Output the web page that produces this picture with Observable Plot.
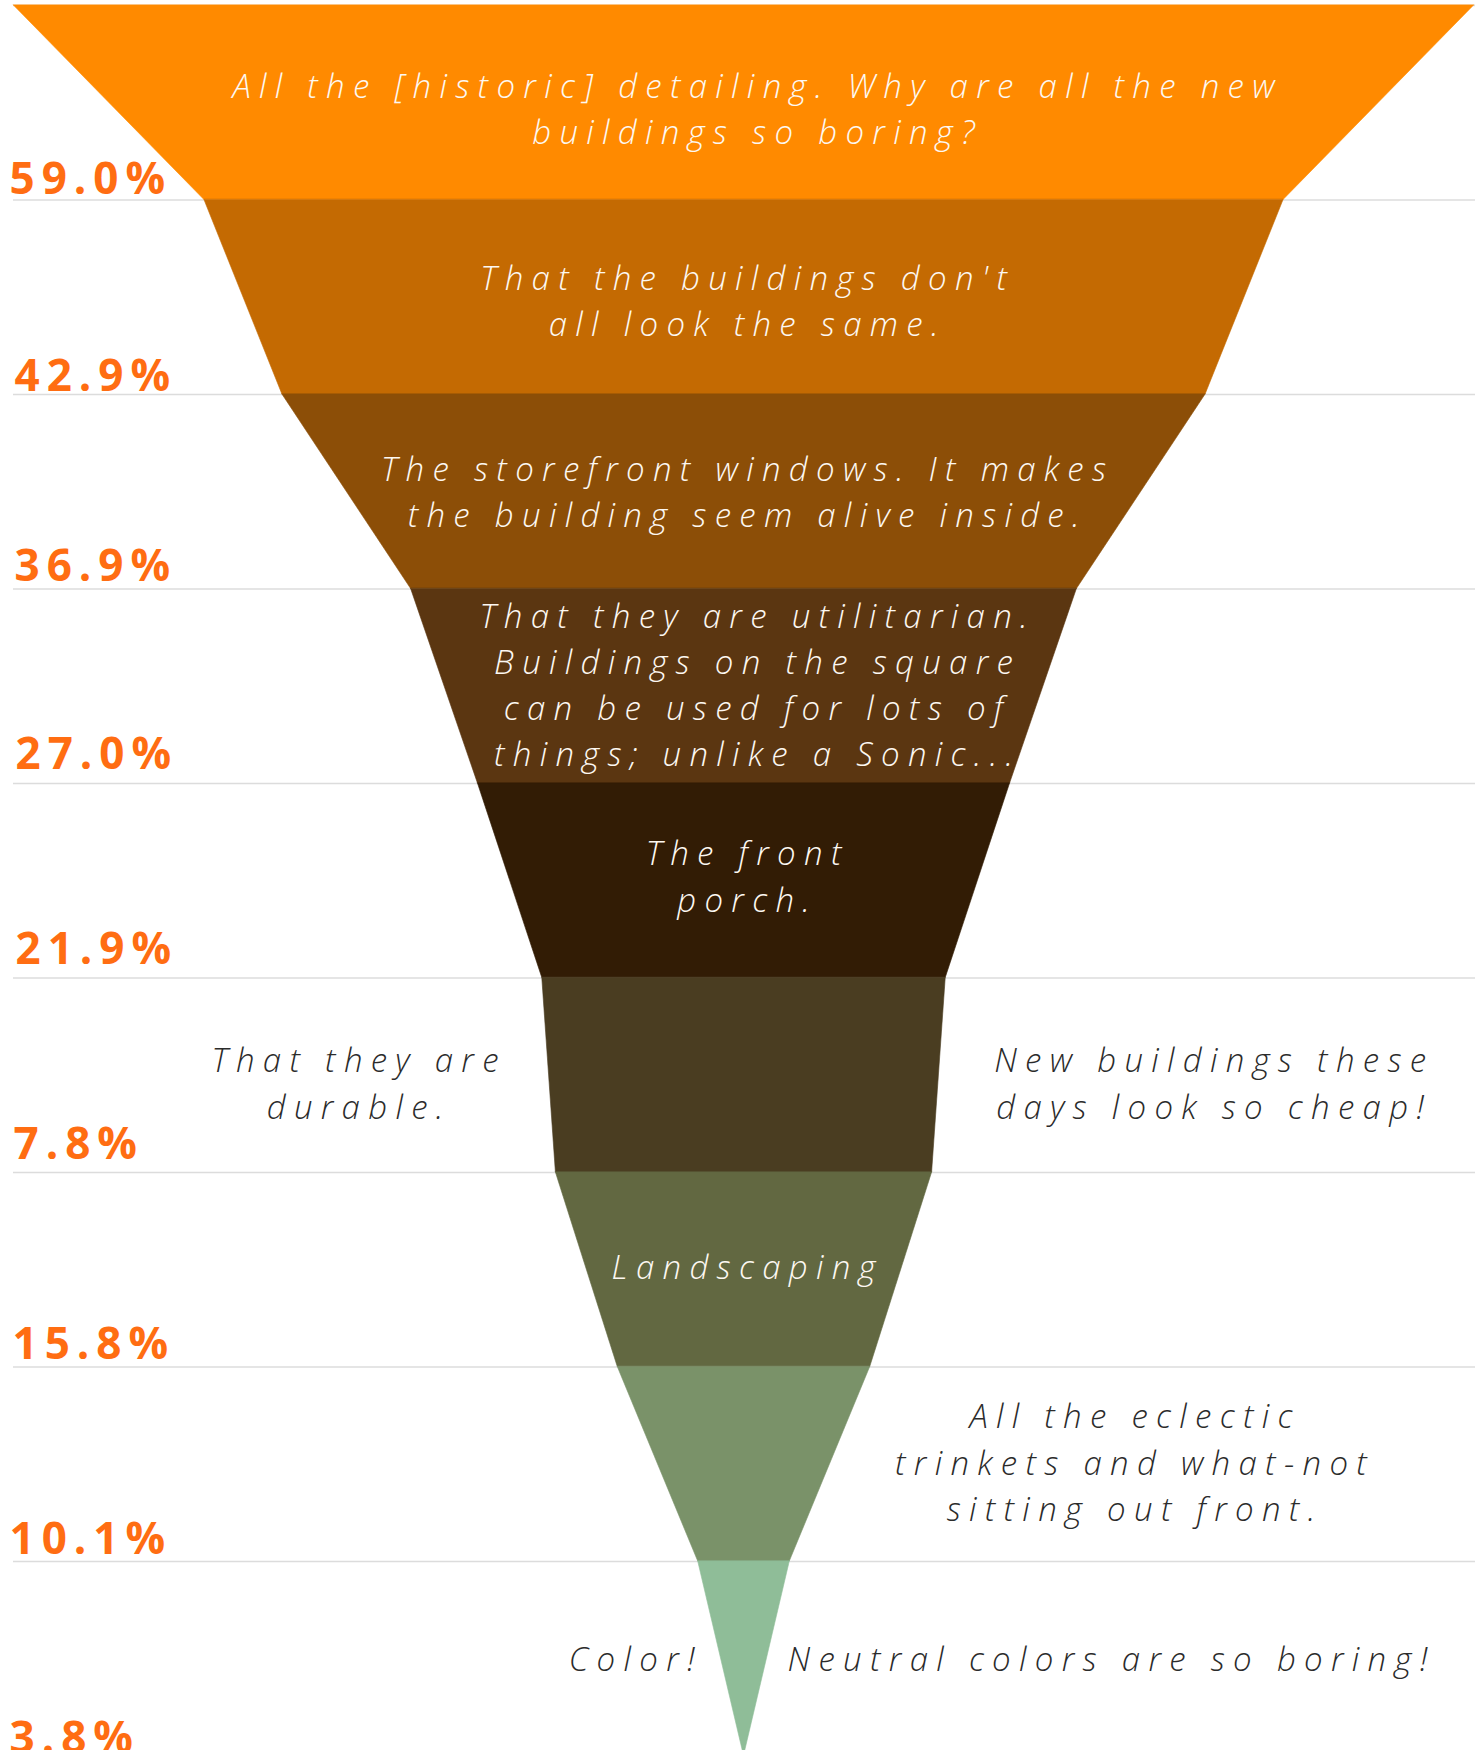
<!DOCTYPE html>
<html>
<head>
<meta charset="utf-8">
<script src="https://cdn.jsdelivr.net/npm/d3@7"></script>
<script src="https://cdn.jsdelivr.net/npm/@observablehq/plot@0.6"></script>
<style>
  html, body { margin: 0; padding: 0; background: #ffffff; overflow: hidden; }
  #chart { width: 1483px; height: 1750px; }
  g[aria-description="answer"] text, g[aria-description="comment"] text { letter-spacing: 8.3px; }
  g[aria-description="share"] text { letter-spacing: 7px; }
</style>
</head>
<body>
<div id="chart"></div>
<script>
// ---- data ----
// share of respondents shown at each step of the funnel
const sharePct = [59.0, 42.9, 36.9, 27.0, 21.9, 7.8, 15.8, 10.1, 3.8];
// drawn width of each slice at its top edge (same % units)
const sliceTopWidth = [59.0, 43.6, 37.3, 26.9, 21.5, 16.3, 15.2, 10.2, 3.7];
// answers (one per slice)
const answers = [
  "All the [historic] detailing. Why are all the new\nbuildings so boring?",
  "That the buildings don't\nall look the same.",
  "The storefront windows. It makes\nthe building seem alive inside.",
  "That they are utilitarian.\nBuildings on the square\ncan be used for lots of\nthings; unlike a Sonic...",
  "The front\nporch.",
  "That they are\ndurable.",
  "Landscaping",
  "All the eclectic\ntrinkets and what-not\nsitting out front.",
  "Color!"
];
// extra comments printed beside two slices
const commentSlice = [5, 8];
const comments = [
  "New buildings these\ndays look so cheap!",
  "Neutral colors are so boring!"
];

// ---- styling / layout ----
const sliceColors = ["#ff8a00", "#c46a02", "#8c4e07", "#5b3611", "#321c05", "#4a3d21", "#626841", "#7a9269", "#8fbd98"];
const nSlices = sharePct.length;
const bandPx = 194.5;
const pxPerUnit = 24.75;
const centerPx = 743.5;

const funnelRows = sharePct.flatMap((_, i) => [
  {slice: i, y: i, w: sliceTopWidth[i]},
  {slice: i, y: i + 1, w: i + 1 < nSlices ? sliceTopWidth[i + 1] : 0}
]);

// placement of answer texts: inside the slice, or beside it (x in % units, nudge in px)
const answerPlace = [
  {x: 0.55, anchor: "middle", inside: true, nudge: 3.5},
  {x: 0.15, anchor: "middle", inside: true, nudge: 1},
  {x: 0.15, anchor: "middle", inside: true, nudge: -2.2},
  {x: 0.55, anchor: "middle", inside: true, nudge: -4},
  {x: 0.15, anchor: "middle", inside: true, nudge: -7},
  {x: -15.55, anchor: "middle", inside: false, nudge: 5.5},
  {x: 0.15, anchor: "middle", inside: true, nudge: -5.5},
  {x: 15.8, anchor: "middle", inside: false, nudge: -4.5},
  {x: -1.66, anchor: "end", inside: false, nudge: -3}
];
const commentPlace = [
  {x: 19.0, anchor: "middle", nudge: 5.5},
  {x: 1.76, anchor: "start", nudge: -3}
];
// share labels: left edge (px) and gap of baseline above the slice's bottom line (px)
const shareLeftPx = [9, 14, 14, 15, 15, 13, 12, 9, 9];
const shareGapPx = [6, 4, 8, 15, 14, 14, 8, 8, 3];

const answerRows = answers.map((t, i) => ({i, text: t, ...answerPlace[i]}));
const commentRows = comments.map((t, k) => ({i: commentSlice[k], text: t, ...commentPlace[k]}));
const outsideRows = answerRows.filter(d => !d.inside).concat(commentRows);

const textFont = "'Open Sans', 'Lato', sans-serif";
const textStyle = {
  x: "x", y: d => d.i + 0.5 + d.nudge / bandPx, text: "text",
  lineAnchor: "middle", lineHeight: 1.4,
  fontSize: 33, fontStyle: "italic", fontWeight: 300, fontFamily: textFont
};

const plot = Plot.plot({
  width: 1483,
  height: 1750,
  margin: 0,
  x: {domain: [-centerPx / pxPerUnit, (1483 - centerPx) / pxPerUnit], range: [0, 1483], axis: null},
  y: {domain: [0, nSlices], range: [5, 5 + nSlices * bandPx], axis: null},
  color: {type: "ordinal", domain: d3.range(nSlices), range: sliceColors},
  style: {background: "#ffffff", overflow: "hidden"},
  marks: [
    Plot.ruleY(d3.range(0, nSlices), {y: d => d, stroke: "#dcdcdc", strokeWidth: 1.5, insetLeft: 13, insetRight: 8}),
    Plot.areaX(funnelRows, {
      y: "y", x1: d => -d.w / 2, x2: d => d.w / 2, z: "slice",
      fill: "slice", stroke: "slice", strokeWidth: 0.6, curve: "linear"
    }),
    Plot.text(answerRows.filter(d => d.inside), {
      ...textStyle, ariaDescription: "answer",
      textAnchor: "middle", fill: "#fdf8f2"
    }),
    Plot.text(outsideRows.filter(d => d.anchor === "middle"), {
      ...textStyle, ariaDescription: "comment",
      textAnchor: "middle", fill: "#2b2b2b"
    }),
    Plot.text(outsideRows.filter(d => d.anchor === "end"), {
      ...textStyle, ariaDescription: "comment",
      textAnchor: "end", fill: "#2b2b2b"
    }),
    Plot.text(outsideRows.filter(d => d.anchor === "start"), {
      ...textStyle, ariaDescription: "comment",
      textAnchor: "start", fill: "#2b2b2b"
    }),
    Plot.text(sharePct, {
      ariaDescription: "share",
      x: (d, i) => (shareLeftPx[i] - centerPx) / pxPerUnit,
      y: (d, i) => i + 1 - shareGapPx[i] / bandPx,
      text: d => d.toFixed(1) + "%",
      textAnchor: "start", lineAnchor: "bottom",
      fill: "#ff6d12", fontSize: 44, fontWeight: 700, fontFamily: textFont
    })
  ]
});
document.getElementById("chart").appendChild(plot);
</script>
</body>
</html>
